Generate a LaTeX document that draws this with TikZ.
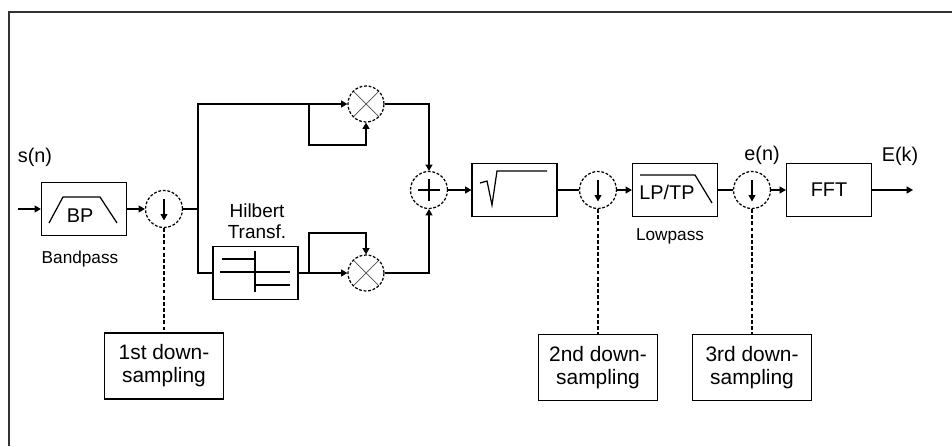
\documentclass[tikz,border=0pt]{standalone}
\usepackage{fontspec}
\setmainfont{Liberation Sans}
\usetikzlibrary{arrows.meta}

\tikzset{
	blk/.style={draw, rectangle, inner sep=0pt, minimum width=1.7cm, minimum height=1.06cm},
	note/.style={draw, rectangle, inner sep=0pt, align=center, minimum width=2.38cm, minimum height=1.32cm, font=\fontsize{11.9}{13}\selectfont},
	ring/.style={draw, circle, inner sep=0pt, minimum size=0.74cm, dash pattern=on 1.6pt off 1pt},
	dnsmp/.style={ring, path picture={\draw[solid, -{Triangle[length=3.6pt,width=3.8pt]}] ([yshift=0.2cm]path picture bounding box.center) -- ([yshift=-0.23cm]path picture bounding box.center);}},
	mult/.style={ring, minimum size=0.72cm, path picture={\draw[solid, thin, black!70] (path picture bounding box.north west) -- (path picture bounding box.south east) (path picture bounding box.north east) -- (path picture bounding box.south west);}},
	addr/.style={ring, path picture={\draw[solid, line width=1.3pt] ([xshift=-0.22cm]path picture bounding box.center) -- ([xshift=0.22cm]path picture bounding box.center) ([yshift=-0.22cm]path picture bounding box.center) -- ([yshift=0.22cm]path picture bounding box.center);}},
	sig/.style={-{Triangle[length=3.6pt,width=4pt]}},
	txt/.style={font=\fontsize{11.3}{13}\selectfont},
	smalltxt/.style={font=\fontsize{9.8}{11}\selectfont},
}

\begin{document}
\begin{tikzpicture}[x=0.02cm, y=-0.02cm, line width=0.7pt]
		\useasboundingbox (0,0) rectangle (952,446);
		\draw[line width=1.1pt, black!80] (9,446) -- (9,12) -- (952,12);
		
		% blocks
		\node[blk] (bp) at (84,209) {};
		\node[dnsmp] (ds1) at (164,209) {};
		\node[mult] (mulA) at (366,104) {};
		\node[mult] (mulB) at (366,273) {};
		\node[blk] (hil) at (255.5,273) {};
		\node[addr] (add) at (429,190) {};
		\node[blk] (sq) at (514.5,190) {};
		\node[dnsmp] (ds2) at (598,190) {};
		\node[blk] (lp) at (675,190) {};
		\node[dnsmp] (ds3) at (752,190) {};
		\node[blk, txt] (fft) at (829,190) {FFT};
		
		\node[note] (dsA) at (164,366) {1st down-\\sampling};
		\node[note] (dsB) at (598,367.5) {2nd down-\\sampling};
		\node[note] (dsC) at (752,367.5) {3rd down-\\sampling};
		
		% texts
		\node[txt] (sn) at (35,157) {s(n)};
		\node[txt] (en) at (762,155) {e(n)};
		\node[txt] (ek) at (900,156) {E(k)};
		\node[smalltxt] (bpl) at (80,259) {Bandpass};
		\node[smalltxt] (lpl) at (670,236.5) {Lowpass};
		\node[align=center, font=\fontsize{10.8}{12}\selectfont] (hill) at (257,221.5) {Hilbert\\Transf.};
		
		% symbols inside the blocks
		\draw (49,223) -- (63,197) -- (100,197) -- (117,223);
		\node[txt] (bpt) at (80,216) {BP};
		\draw (222,259) -- (255,259) (220,272) -- (290,272) (255,285) -- (290,285) (255,251) -- (255,292);
		\draw (480,183) -- (487,181) -- (492,205) -- (497,171) -- (547,171);
		\draw (640,175) -- (695,175) -- (712,203);
		\node[txt] (lpt) at (667,192) {LP/TP};
		
		% connectors
		\coordinate (in) at (18,209);
		\coordinate (br) at (198,209);
		\coordinate (fbA) at (309,104);
		\coordinate (fbAlow) at (309,145);
		\coordinate (fbB) at (309,273);
		\coordinate (fbBup) at (309,233);
		\coordinate (out) at (913,190);
		
		\draw[sig] (in) -- (bp);
		\draw[sig] (bp) -- (ds1);
		\draw (ds1) -- (br);
		\draw[sig] (br) |- (mulA);
		\draw (br) |- (hil);
		\draw[sig] (fbA) -- (fbAlow) -| (mulA.south);
		\draw[sig] (hil) -- (mulB);
		\draw[sig] (fbB) -- (fbBup) -| (mulB.north);
		\draw[sig] (mulA) -| (add);
		\draw[sig] (mulB) -| (add);
		\draw[sig] (add) -- (sq);
		\draw (sq) -- (ds2);
		\draw[sig] (ds2) -- (lp);
		\draw (lp) -- (ds3);
		\draw[sig] (ds3) -- (fft);
		\draw[sig] (fft) -- (out);
		
		\draw[dash pattern=on 2.2pt off 1.3pt] (ds1) -- (dsA);
		\draw[dash pattern=on 2.2pt off 1.3pt] (ds2) -- (dsB);
		\draw[dash pattern=on 2.2pt off 1.3pt] (ds3) -- (dsC);
	\end{tikzpicture}
\end{document}
